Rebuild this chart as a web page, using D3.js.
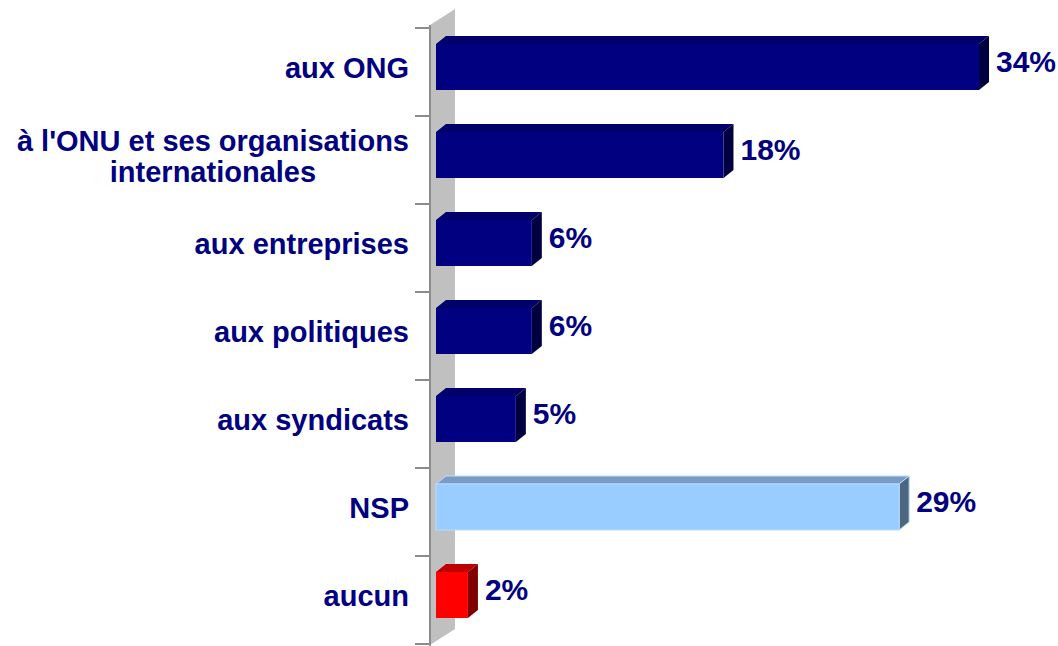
<!DOCTYPE html>
<html>
<head>
<meta charset="utf-8">
<script src="https://cdn.jsdelivr.net/npm/d3@7"></script>
<style>
  body { margin: 0; background: #fff; }
  svg text { font-family: "Liberation Sans", Arial, sans-serif; font-weight: bold; fill: #000080; }
</style>
</head>
<body>
<div id="chart"></div>
<script>
(function bar3d() {

  const categories = [
    ["aux ONG"],
    ["à l'ONU et ses organisations", "internationales"],
    ["aux entreprises"],
    ["aux politiques"],
    ["aux syndicats"],
    ["NSP"],
    ["aucun"]
  ];
  const values = [34, 18, 6, 6, 5, 29, 2];
  const valueLabels = ["34%", "18%", "6%", "6%", "5%", "29%", "2%"];
  const barKind = ["main", "main", "main", "main", "main", "nsp", "none"];

  const width = 1058,
    height = 646;

  // front / top / side shades per kind
  const shades = {
    main: { front: "#000080", top: "#00006a", side: "#000040", stroke: "none" },
    nsp: { front: "#99ccff", top: "#7a9cc4", side: "#4c6680", stroke: "#b8dcff" },
    none: { front: "#ff0000", top: "#c00000", side: "#800000", stroke: "none" }
  };

  const depthX = 10, depthY = 8;

  const x = d3.scaleLinear()
    .domain([0, 34])
    .range([436, 979]);

  const y = d3.scaleBand()
    .domain(d3.range(categories.length))
    .range([28, 644]);

  const svg = d3.select("#chart")
    .append("svg")
    .attr("width", width)
    .attr("height", height);

  // side wall
  svg.append("polygon")
    .attr("points", [[430, 25], [455, 9], [455, 629], [430, 645]].join(" "))
    .attr("fill", "#c0c0c0");

  svg.append("line")
    .attr("x1", 430).attr("x2", 430)
    .attr("y1", 25).attr("y2", 646)
    .attr("stroke", "#8c8c8c")
    .attr("stroke-width", 2);

  // ticks between categories
  const tickYs = y.domain().map(i => y(i)).concat([y.range()[1]]);
  svg.append("g")
    .selectAll("line")
    .data(tickYs)
    .join("line")
    .attr("x1", 415).attr("x2", 430)
    .attr("y1", d => d).attr("y2", d => d)
    .attr("stroke", "#8c8c8c")
    .attr("stroke-width", 2);

  const bars = svg.append("g")
    .selectAll("g")
    .data(values.map((v, i) => ({ v, i, kind: barKind[i] })))
    .join("g");

  const front = d => {
    const x0 = x(0), x1 = x(d.v);
    const yt = y(d.i) + 16, yb = y(d.i) + 62;
    return { x0, x1, yt, yb };
  };

  // top face
  bars.append("polygon")
    .attr("points", d => {
      const f = front(d);
      return [[f.x0, f.yt], [f.x0 + depthX, f.yt - depthY], [f.x1 + depthX, f.yt - depthY], [f.x1, f.yt]].join(" ");
    })
    .attr("fill", d => shades[d.kind].top)
    .attr("stroke", d => shades[d.kind].stroke);

  // side face
  bars.append("polygon")
    .attr("points", d => {
      const f = front(d);
      return [[f.x1, f.yt], [f.x1 + depthX, f.yt - depthY], [f.x1 + depthX, f.yb - depthY], [f.x1, f.yb]].join(" ");
    })
    .attr("fill", d => shades[d.kind].side)
    .attr("stroke", d => shades[d.kind].stroke);

  // front face
  bars.append("rect")
    .attr("x", d => front(d).x0)
    .attr("y", d => front(d).yt)
    .attr("width", d => front(d).x1 - front(d).x0)
    .attr("height", d => front(d).yb - front(d).yt)
    .attr("fill", d => shades[d.kind].front)
    .attr("stroke", d => shades[d.kind].stroke);

  // value labels
  bars.append("text")
    .attr("x", d => x(d.v) + 17)
    .attr("y", d => y(d.i) + 33)
    .attr("dominant-baseline", "central")
    .attr("font-size", 30)
    .text(d => valueLabels[d.i]);

  // category labels (multi-line ones centred under the first line)
  const labelX = 409;
  const labels = svg.append("g")
    .selectAll("text")
    .data(categories)
    .join("text")
    .attr("font-size", 29)
    .attr("y", (d, i) => y(i) + 40 - (d.length - 1) * 15);

  labels.each(function (lines) {
    const t = d3.select(this);
    const first = t.append("tspan")
      .attr("x", labelX)
      .attr("text-anchor", "end")
      .attr("dy", "0.35em")
      .text(lines[0]);
    const mid = labelX - first.node().getComputedTextLength() / 2;
    lines.slice(1).forEach(line => {
      t.append("tspan")
        .attr("x", mid)
        .attr("text-anchor", "middle")
        .attr("dy", 31)
        .text(line);
    });
  });

})();
</script>
</body>
</html>
